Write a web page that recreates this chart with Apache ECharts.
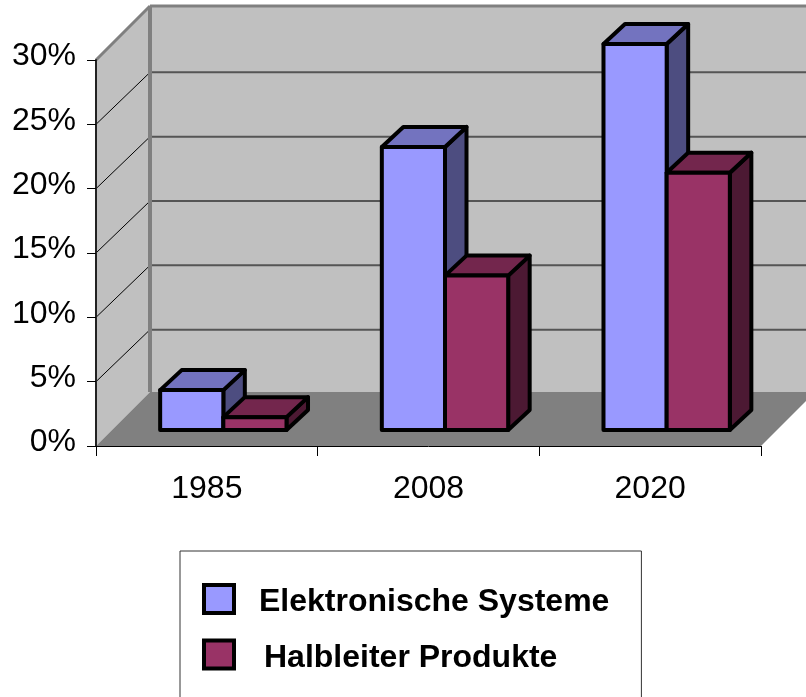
<!DOCTYPE html>
<html>
<head>
<meta charset="utf-8">
<style>
  html, body { margin: 0; padding: 0; background: #fff; }
  #main { width: 806px; height: 697px; }
</style>
<script src="https://cdn.jsdelivr.net/npm/echarts@6/dist/echarts.min.js"></script>
</head>
<body>
<div id="main"></div>
<script>
var categories = ['1985', '2008', '2020']
var elektronik = [3.1, 22, 30]
var halbleiter = [1, 12, 20]
var yTicks = [5, 10, 15, 20, 25]

var DEPTH_X = 54, DEPTH_Y = 54        // wall depth
var LINE_Y = 52                       // gridlines land a bit lower on the back wall
var BAR_X = 16.5, BAR_Y = 16          // where the bars start inside the depth
var BAR_DX = 21.5, BAR_DY = 20        // depth of a bar
var BAR_WIDTH = 0.285                 // share of the category band

function poly(points, fill, stroke, width) {
  return {
    type: 'polygon',
    shape: { points: points },
    style: { fill: fill, stroke: stroke, lineWidth: width, lineJoin: 'round' }
  }
}

function line(x1, y1, x2, y2, color, width) {
  return {
    type: 'line',
    shape: { x1: x1, y1: y1, x2: x2, y2: y2 },
    style: { stroke: color, lineWidth: width }
  }
}

function renderWalls(params, api) {
  var rect = params.coordSys
  var left = rect.x, right = rect.x + rect.width
  var top = rect.y, bottom = rect.y + rect.height
  var backX = left + DEPTH_X
  var children = [
    poly([[backX, top - DEPTH_Y], [right + DEPTH_X, top - DEPTH_Y], [right + DEPTH_X, bottom - DEPTH_Y], [backX, bottom - DEPTH_Y]], '#c0c0c0'),
    poly([[left, top], [backX, top - DEPTH_Y], [backX, bottom - DEPTH_Y], [left, bottom]], '#c0c0c0'),
    poly([[left, bottom], [backX, bottom - DEPTH_Y], [right + DEPTH_X, bottom - DEPTH_Y], [right, bottom]], '#808080')
  ]
  yTicks.forEach(function (t) {
    var y = api.coord([0, t])[1]
    children.push(line(left, y, backX, y - LINE_Y, '#000', 1))
    children.push(line(backX, y - LINE_Y, right + DEPTH_X, y - LINE_Y, '#555', 2))
  })
  children.push(line(left, top, backX, top - DEPTH_Y, '#808080', 3))
  children.push(line(backX, top - DEPTH_Y, right + DEPTH_X, top - DEPTH_Y, '#808080', 3))
  children.push(line(backX, top - DEPTH_Y, backX, bottom - DEPTH_Y, '#808080', 4))
  return { type: 'group', children: children }
}

// side: -1 draws the bar left of the band centre, 0 right of it
function barRenderer(side, front, topFace, sideFace) {
  return function (params, api) {
    var c = api.coord([api.value(0), api.value(1)])
    var base = api.coord([api.value(0), 0])
    var w = api.size([1, 0])[0] * BAR_WIDTH
    var x0 = c[0] + side * w + BAR_X, x1 = x0 + w
    var y0 = c[1] - BAR_Y, y1 = base[1] - BAR_Y
    return {
      type: 'group',
      children: [
        poly([[x1, y0], [x1 + BAR_DX, y0 - BAR_DY], [x1 + BAR_DX, y1 - BAR_DY], [x1, y1]], sideFace, '#000', 4),
        poly([[x0, y0], [x0 + BAR_DX, y0 - BAR_DY], [x1 + BAR_DX, y0 - BAR_DY], [x1, y0]], topFace, '#000', 4),
        poly([[x0, y0], [x1, y0], [x1, y1], [x0, y1]], front, '#000', 4)
      ]
    }
  }
}

function pairs(values) {
  return values.map(function (v, i) { return [i, v] })
}

var chart = echarts.init(document.getElementById('main'), null, { renderer: 'canvas' })
var fontFamily = '"Liberation Sans", Arial, sans-serif'
var legendFont = { fontFamily: fontFamily, fontSize: 32, fontWeight: 'bold', color: '#000' }

chart.setOption({
  animation: false,
  backgroundColor: '#fff',
  grid: { left: 96, right: 45, top: 60, bottom: 251 },
  legend: {
    orient: 'vertical',
    left: 180,
    top: 551,
    height: 110,
    padding: [32, 32, 60, 22],
    backgroundColor: '#fff',
    borderColor: '#333',
    borderWidth: 1,
    borderRadius: 0,
    itemWidth: 30,
    itemHeight: 28,
    itemGap: 20,
    selectedMode: false,
    formatter: function (name) {
      return (name === 'Halbleiter Produkte' ? '{b|' : '{a|') + name + '}'
    },
    textStyle: {
      rich: {
        a: Object.assign({ padding: [7, 0, 0, 20] }, legendFont),
        b: Object.assign({ padding: [7, 0, 0, 25] }, legendFont)
      }
    },
    data: [
      { name: 'Elektronische Systeme', icon: 'rect', itemStyle: { color: '#9999ff', borderColor: '#000', borderWidth: 4 } },
      { name: 'Halbleiter Produkte', icon: 'rect', itemStyle: { color: '#993366', borderColor: '#000', borderWidth: 4 } }
    ]
  },
  xAxis: {
    type: 'category',
    data: categories,
    z: 3,
    axisLine: { lineStyle: { color: '#000', width: 1 } },
    axisTick: { show: true, length: 10, lineStyle: { color: '#000' } },
    axisLabel: { margin: 27, fontFamily: fontFamily, fontSize: 32, color: '#000' }
  },
  yAxis: {
    type: 'value',
    min: 0,
    max: 30,
    interval: 5,
    z: 3,
    splitLine: { show: false },
    axisLine: { show: true, lineStyle: { color: '#222', width: 2 } },
    axisTick: { show: true, length: 9, lineStyle: { color: '#000' } },
    axisLabel: {
      margin: 20,
      formatter: '{a|{value}%}',
      rich: {
        a: { fontFamily: fontFamily, fontSize: 32, color: '#000', padding: [0, 0, 7, 0] }
      }
    }
  },
  series: [
    {
      name: 'walls',
      type: 'custom',
      z: 1,
      silent: true,
      data: [[0, 0]],
      encode: { x: 0, y: 1 },
      renderItem: renderWalls
    },
    {
      name: 'Elektronische Systeme',
      type: 'custom',
      z: 4,
      itemStyle: { color: '#9999ff' },
      data: pairs(elektronik),
      encode: { x: 0, y: 1 },
      renderItem: barRenderer(-1, '#9999ff', '#7373bf', '#4d4d80')
    },
    {
      name: 'Halbleiter Produkte',
      type: 'custom',
      z: 4,
      itemStyle: { color: '#993366' },
      data: pairs(halbleiter),
      encode: { x: 0, y: 1 },
      renderItem: barRenderer(0, '#993366', '#73264d', '#4c1933')
    }
  ]
})
</script>
</body>
</html>
